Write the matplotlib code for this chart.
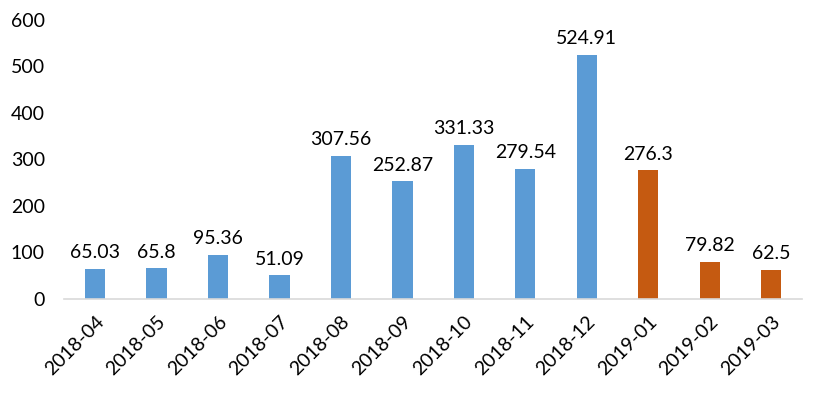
import matplotlib
matplotlib.use("Agg")
import matplotlib.pyplot as plt
import numpy as np

months = ["2018-04", "2018-05", "2018-06", "2018-07", "2018-08", "2018-09",
          "2018-10", "2018-11", "2018-12", "2019-01", "2019-02", "2019-03"]
values = [65.03, 65.8, 95.36, 51.09, 307.56, 252.87,
          331.33, 279.54, 524.91, 276.3, 79.82, 62.5]
value_labels = ["65.03", "65.8", "95.36", "51.09", "307.56", "252.87",
                "331.33", "279.54", "524.91", "276.3", "79.82", "62.5"]
# last three months are highlighted
highlight = [False] * 9 + [True] * 3

plt.rcParams['font.family'] = ['Lato', 'DejaVu Sans']

fig = plt.figure(figsize=(8.25, 3.97), dpi=100)
ax = fig.add_axes([0.078, 0.247, 0.894, 0.703])

x = np.arange(len(months))
colors = ['#C55A11' if h else '#5B9BD5' for h in highlight]
ax.bar(x, values, 0.33, color=colors, zorder=2)

for xi, v, lab in zip(x, values, value_labels):
    ax.text(xi, v + 16, lab, ha='center', va='bottom', fontsize=14, color='#000000')

ax.set_xlim(-0.5, len(months) - 0.5)
ax.set_ylim(0, 600)
ax.set_yticks(range(0, 601, 100))
ax.set_xticks(x)
ax.set_xticklabels(months, rotation=45, ha='right', rotation_mode='anchor')
ax.tick_params(axis='both', length=0, labelsize=14, colors='#000000')
ax.tick_params(axis='y', pad=14)
ax.tick_params(axis='x', pad=10)

for s in ['top', 'right', 'left']:
    ax.spines[s].set_visible(False)
ax.spines['bottom'].set_color('#D9D9D9')
ax.spines['bottom'].set_linewidth(1.2)

fig.savefig("out.png", dpi=100)
